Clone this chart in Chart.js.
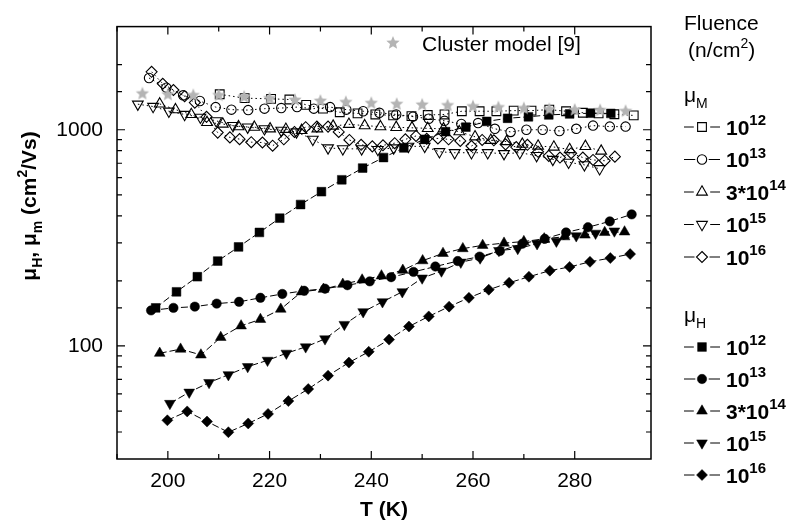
<!DOCTYPE html>
<html>
<head>
<meta charset="utf-8">
<script src="https://cdn.jsdelivr.net/npm/chart.js@4.4.0/dist/chart.umd.min.js"></script>
<style>
  html, body { margin: 0; padding: 0; background: #fff; }
  canvas { display: block; }
</style>
</head>
<body>
<canvas id="movilidadChart" width="802" height="524"></canvas>
<script>
// Ticks del eje X (solo se rotulan los múltiplos de 20)
const xEtiquetas = [200, 220, 240, 260, 280];
const yEtiquetas = [100, 1000];

// Modelo de clusters [9]
const tCluster  = [195, 200, 205, 210, 215, 220, 225, 230, 235, 240, 245, 250, 255, 260, 265, 270, 275, 280, 285, 290];
const muCluster = [1469, 1454, 1443, 1443, 1419, 1396, 1372, 1358, 1340, 1327, 1313, 1304, 1295, 1281, 1268, 1255, 1243, 1235, 1230, 1218];

// mu_M (símbolos abiertos)
const tM12  = [210.2, 215.1, 220.3, 223.9, 227.2, 230.5, 233.8, 237.3, 240.8, 244.3, 247.9, 251.1, 254.4, 257.8, 261.3, 264.6, 268, 271.5, 275, 278.3, 281.6, 284.7, 287.8, 291.6];
const muM12 = [1459, 1400, 1390, 1380, 1304, 1252, 1205, 1190, 1177, 1165, 1157, 1170, 1177, 1218, 1218, 1218, 1226, 1226, 1239, 1218, 1199, 1190, 1180, 1165];

const tM13  = [196.3, 199.7, 203, 206.3, 209.4, 212.5, 215.8, 219, 222.3, 225.4, 228.7, 231.9, 235.1, 238.4, 241.6, 244.9, 248.2, 251.3, 254.4, 257.7, 261, 264.3, 267.4, 270.5, 273.7, 277, 280.3, 283.6, 286.9, 290];
const muM13 = [1735, 1566, 1443, 1358, 1273, 1239, 1233, 1252, 1260, 1273, 1252, 1273, 1239, 1218, 1198, 1177, 1150, 1125, 1100, 1063, 1074, 1010, 977, 1000, 1000, 987, 1010, 1045, 1034, 1034];

const tM314  = [198.4, 201.5, 204.6, 207.7, 210.8, 213.9, 217, 220.1, 223.2, 226.3, 229.4, 232.5, 235.6, 238.7, 241.8, 244.9, 248, 251.1, 254.2, 257.3, 260.4, 263.5, 266.6, 269.7, 272.8, 275.9, 279, 282.1, 285.2];
const muM314 = [1317, 1239, 1177, 1082, 1063, 1034, 1028, 1010, 1005, 993, 1010, 1040, 1060, 1045, 1034, 1026, 1021, 1015, 1010, 980, 928, 894, 882, 858, 841, 832, 810, 838, 797];

const tM15  = [194.1, 197.1, 200.2, 203.3, 206.4, 209.5, 212.8, 215.7, 219, 222.3, 225.3, 228.5, 231.5, 234.4, 238.1, 241.3, 244.4, 247.3, 250.5, 253.4, 256.4, 259.7, 262.9, 266.1, 269.2, 272.5, 275.7, 278.8, 281.9, 284.9];
const muM15 = [1313, 1281, 1218, 1177, 1142, 1100, 1045, 1028, 1010, 993, 977, 903, 824, 816, 816, 810, 824, 838, 838, 791, 783, 783, 783, 775, 783, 759, 729, 707, 688, 660];

const tM16  = [196.8, 199.0, 201.1, 203.3, 205.3, 207.6, 209.8, 212.2, 214.1, 216.4, 218.6, 220.6, 222.8, 224.9, 227.1, 229.3, 231.5, 233.6, 235.7, 238.0, 240.2, 242.3, 244.6, 246.7, 248.8, 250.9, 253.1, 255.2, 257.5, 259.7, 261.8, 264.1, 266.4, 268.5, 270.7, 272.8, 274.9, 277.1, 279.3, 281.6, 283.6, 285.9, 287.9];
const muM16 = [1854, 1632, 1527, 1429, 1335, 1148, 970, 922, 905, 876, 873, 844, 903, 977, 1028, 1034, 1034, 977, 897, 852, 838, 847, 867, 903, 936, 908, 912, 903, 888, 841, 897, 894, 856, 832, 852, 791, 757, 744, 779, 744, 725, 719, 751];

// mu_H (símbolos rellenos)
const tH12  = [197.6, 201.7, 205.8, 209.8, 213.9, 218, 222, 226.1, 230.2, 234.2, 238.3, 242.4, 246.4, 250.5, 254.6, 258.6, 262.7, 266.8, 270.9, 274.9, 279, 283.1, 287.1];
const muH12 = [150, 178, 209, 247, 287, 335, 390, 451, 517, 587, 665, 744, 824, 903, 980, 1028, 1093, 1130, 1148, 1171, 1183, 1193, 1190];

const tH13  = [196.7, 201.1, 205.3, 209.6, 214, 218.2, 222.5, 226.8, 230.9, 235.3, 239.7, 243.9, 248.3, 252.6, 257, 261.3, 265.3, 269.7, 274.1, 278.3, 282.6, 286.9, 291.2];
const muH13 = [146, 150, 152, 157, 160, 167, 174, 180, 184, 191, 199, 208, 220, 233, 247, 259, 275, 297, 313, 335, 354, 377, 406];

const tH314  = [198.4, 202.5, 206.5, 210.4, 214.4, 218.2, 222.2, 226.3, 230.6, 234.4, 238.2, 242, 246.2, 250.1, 254.1, 258, 261.9, 266.1, 270, 274, 278, 282, 285.9, 289.8];
const muH314 = [92.5, 96.7, 90.9, 109.6, 123.9, 132.7, 148, 178, 183, 193, 202, 211, 224, 248, 268, 282, 292, 299, 304, 313, 320, 326, 335, 337];

const tH15  = [200.4, 204.2, 208.1, 211.9, 215.7, 219.6, 223.3, 227.1, 230.9, 234.7, 238.4, 242.2, 246.1, 250, 253.8, 257.6, 261.4, 265.1, 268.8, 272.6, 276.4, 280.3, 284.1, 287.8];
const muH15 = [54.2, 61.1, 67.7, 73.6, 80.2, 85.8, 92.5, 99, 107.8, 125.7, 143.9, 160, 178, 206, 222, 244, 255, 276, 282, 297, 305, 323, 332, 340];

const tH16  = [199.9, 203.8, 207.7, 211.9, 215.8, 219.7, 223.7, 227.6, 231.5, 235.6, 239.5, 243.5, 247.4, 251.3, 255.3, 259.2, 263.1, 267.1, 271, 275.1, 279, 283, 287, 290.9];
const muH16 = [45.3, 49.8, 44.7, 39.9, 43.8, 48.5, 55.6, 63.2, 72.9, 83.8, 94, 107, 123, 137, 152, 167, 182, 196, 209, 223, 232, 245, 255, 266];

// Textos de la leyenda
const fluenciaBase = ['10', '10', '3*10', '10', '10'];
const fluenciaExp  = ['12', '13', '14', '15', '16'];

const FAMILIA = '"Liberation Sans", Arial, Helvetica, sans-serif';
function fuente(tam, peso) {
    return (peso || 'normal') + ' ' + tam + 'px ' + FAMILIA;
}

function puntos(ts, vs) {
    return ts.map((t, i) => ({ x: t, y: vs[i] }));
}

// Estrella gris para el modelo de clusters
function crearEstrella(r, color) {
    const c = document.createElement('canvas');
    const s = Math.ceil(r * 2) + 2;
    c.width = s;
    c.height = s;
    const g = c.getContext('2d');
    g.fillStyle = color;
    g.beginPath();
    for (let i = 0; i < 10; i++) {
        const a = -Math.PI / 2 + i * Math.PI / 5;
        const rr = i % 2 === 0 ? r : r * 0.45;
        g.lineTo(s / 2 + rr * Math.cos(a), s / 2 + rr * Math.sin(a));
    }
    g.closePath();
    g.fill();
    return c;
}
const estrella = crearEstrella(7, '#b4b4b4');

// Estilos de símbolos por fluencia
const estilos = [
    { pointStyle: 'rect', radius: 6.2, rotation: 0 },
    { pointStyle: 'circle', radius: 4.7, rotation: 0 },
    { pointStyle: 'triangle', radius: 6.2, rotation: 0 },
    { pointStyle: 'triangle', radius: 6.2, rotation: 180 },
    { pointStyle: 'rectRot', radius: 5.5, rotation: 0 }
];

function serieM(ts, vs, k) {
    return {
        label: 'M' + k,
        data: puntos(ts, vs),
        borderColor: '#000',
        borderWidth: 1,
        borderDash: [1.5, 3],
        pointStyle: estilos[k].pointStyle,
        pointRotation: estilos[k].rotation,
        pointRadius: estilos[k].radius,
        pointBorderWidth: 1.1,
        pointBorderColor: '#000',
        pointBackgroundColor: 'rgba(255,255,255,0)',
        showLine: true
    };
}

function serieH(ts, vs, k) {
    return {
        label: 'H' + k,
        data: puntos(ts, vs),
        borderColor: '#000',
        borderWidth: 1,
        borderDash: [7, 3],
        pointStyle: estilos[k].pointStyle,
        pointRotation: estilos[k].rotation,
        pointRadius: estilos[k].radius,
        pointBorderWidth: 0.5,
        pointBorderColor: '#000',
        pointBackgroundColor: '#000',
        showLine: true
    };
}

const datasets = [
    {
        label: 'Cluster model [9]',
        data: puntos(tCluster, muCluster),
        pointStyle: estrella,
        showLine: false
    },
    serieM(tM12, muM12, 0),
    serieM(tM13, muM13, 1),
    serieM(tM314, muM314, 2),
    serieM(tM15, muM15, 3),
    serieM(tM16, muM16, 4),
    serieH(tH12, muH12, 0),
    serieH(tH13, muH13, 1),
    serieH(tH314, muH314, 2),
    serieH(tH15, muH15, 3),
    serieH(tH16, muH16, 4)
];

// Texto con subíndices / superíndices
function textoRico(ctx, partes, x, y, tam, peso, alinear, tamPeq) {
    const tamDe = p => (p[1] ? (tamPeq || Math.round(tam * 0.66)) : tam);
    let ancho = 0;
    partes.forEach(p => {
        ctx.font = fuente(tamDe(p), peso);
        ancho += ctx.measureText(p[0]).width;
    });
    let cx = alinear === 'center' ? x - ancho / 2 : x;
    ctx.textAlign = 'left';
    ctx.textBaseline = 'alphabetic';
    partes.forEach(p => {
        ctx.font = fuente(tamDe(p), peso);
        const dy = p[1] === 'sup' ? -tam * 0.45 : (p[1] === 'sub' ? tam * 0.28 : 0);
        ctx.fillText(p[0], cx, y + dy);
        cx += ctx.measureText(p[0]).width;
    });
}

function marcador(ctx, est, x, y, relleno) {
    ctx.save();
    ctx.fillStyle = relleno ? '#000' : 'rgba(255,255,255,0)';
    ctx.strokeStyle = '#000';
    ctx.lineWidth = relleno ? 0.5 : 1.1;
    const r = est.radius;
    ctx.beginPath();
    if (est.pointStyle === 'rect') {
        const s = r * Math.SQRT1_2;
        ctx.rect(x - s, y - s, 2 * s, 2 * s);
    } else if (est.pointStyle === 'circle') {
        ctx.arc(x, y, r, 0, Math.PI * 2);
    } else if (est.pointStyle === 'rectRot') {
        ctx.moveTo(x, y - r); ctx.lineTo(x + r, y); ctx.lineTo(x, y + r); ctx.lineTo(x - r, y);
        ctx.closePath();
    } else {
        const sgn = est.rotation ? -1 : 1;
        const w = r * Math.sin(Math.PI / 3);
        ctx.moveTo(x, y - sgn * r);
        ctx.lineTo(x + w, y + sgn * r / 2);
        ctx.lineTo(x - w, y + sgn * r / 2);
        ctx.closePath();
    }
    ctx.fill();
    ctx.stroke();
    ctx.restore();
}

// Marco, ticks interiores, títulos y leyenda
const marcoPlugin = {
    id: 'marco',
    afterDraw(chart) {
        const ctx = chart.ctx;
        const a = chart.chartArea;
        const xs = chart.scales.x;
        const ys = chart.scales.y;
        ctx.save();
        ctx.strokeStyle = '#000';
        ctx.lineWidth = 1.5;
        ctx.strokeRect(a.left, a.top, a.right - a.left, a.bottom - a.top);

        ctx.lineWidth = 1.2;
        ctx.beginPath();
        xs.ticks.forEach(t => {
            if (t.value % 10 !== 0) return;
            const px = xs.getPixelForValue(t.value);
            const largo = t.value % 20 === 0 ? 8 : 5;
            ctx.moveTo(px, a.bottom); ctx.lineTo(px, a.bottom - largo);
            ctx.moveTo(px, a.top); ctx.lineTo(px, a.top + largo);
        });
        ys.ticks.forEach(t => {
            const py = ys.getPixelForValue(t.value);
            if (py <= a.top + 1 || py >= a.bottom - 1) return;
            const largo = yEtiquetas.includes(t.value) ? 8 : 5;
            ctx.moveTo(a.left, py); ctx.lineTo(a.left + largo, py);
            ctx.moveTo(a.right, py); ctx.lineTo(a.right - largo, py);
        });
        ctx.stroke();

        ctx.fillStyle = '#000';
        // Título eje X
        textoRico(ctx, [['T (K)', '']], (a.left + a.right) / 2, 516, 21, 'bold', 'center');
        // Título eje Y
        ctx.save();
        ctx.translate(28, 206);
        ctx.rotate(-Math.PI / 2);
        textoRico(ctx, [['\u03bc', ''], ['H', 'sub'], [', \u03bc', ''], ['m', 'sub'], [' (cm', ''], ['2', 'sup'], ['/Vs)', '']], 0, 8, 21, 'bold', 'center');
        ctx.restore();

        // Leyenda interior del modelo
        ctx.drawImage(estrella, 393 - estrella.width / 2, 43 - estrella.height / 2);
        textoRico(ctx, [['Cluster model [9]', '']], 422, 51, 21, 'normal', 'left');

        // Leyenda lateral
        const x0 = 684, xm = 702, x1 = 720, xt = 726;
        textoRico(ctx, [['Fluence', '']], x0, 30, 21, 'normal', 'left');
        textoRico(ctx, [['(n/cm', ''], ['2', 'sup'], [')', '']], x0 + 4, 57, 21, 'normal', 'left');
        textoRico(ctx, [['\u03bc', ''], ['M', 'sub']], x0, 102, 21, 'normal', 'left');
        textoRico(ctx, [['\u03bc', ''], ['H', 'sub']], x0, 322, 21, 'normal', 'left');
        const filasM = [127, 159.5, 192, 224.5, 257];
        const filasH = [347, 379, 411, 443, 475];
        [filasM, filasH].forEach((filas, g) => {
            filas.forEach((y, k) => {
                const r = estilos[k].radius;
                ctx.strokeStyle = '#000';
                ctx.lineWidth = 1;
                ctx.beginPath();
                ctx.moveTo(x0, y); ctx.lineTo(xm - r - 2, y);
                ctx.moveTo(xm + r + 2, y); ctx.lineTo(x1, y);
                ctx.stroke();
                marcador(ctx, estilos[k], xm, y, g === 1);
                ctx.fillStyle = '#000';
                textoRico(ctx, [[fluenciaBase[k], ''], [fluenciaExp[k], 'sup']], xt, y + 7.5, 21, 'bold', 'left', 15);
            });
        });
        ctx.restore();
    }
};

new Chart(document.getElementById('movilidadChart'), {
    type: 'scatter',
    data: { datasets: datasets },
    options: {
        responsive: false,
        animation: false,
        devicePixelRatio: 1,
        layout: { padding: { left: 0, top: 8, right: 151, bottom: 0 } },
        elements: { line: { tension: 0 } },
        plugins: {
            legend: { display: false },
            tooltip: { enabled: false }
        },
        scales: {
            x: {
                type: 'linear',
                min: 190,
                max: 295,
                grid: { display: false, drawTicks: false },
                border: { display: false },
                ticks: {
                    stepSize: 10,
                    autoSkip: false,
                    maxRotation: 0,
                    padding: 10,
                    color: '#000',
                    font: { family: FAMILIA, size: 21 },
                    callback: v => (xEtiquetas.includes(v) ? String(v) : '')
                },
                afterFit: s => { s.height = 65; }
            },
            y: {
                type: 'logarithmic',
                min: 30,
                max: 3000,
                grid: { display: false, drawTicks: false },
                border: { display: false },
                ticks: {
                    autoSkip: false,
                    padding: 14,
                    color: '#000',
                    font: { family: FAMILIA, size: 21 },
                    callback: v => (yEtiquetas.includes(v) ? String(v) : '')
                },
                afterFit: s => { s.width = 117; }
            }
        }
    },
    plugins: [marcoPlugin]
});
</script>
</body>
</html>
